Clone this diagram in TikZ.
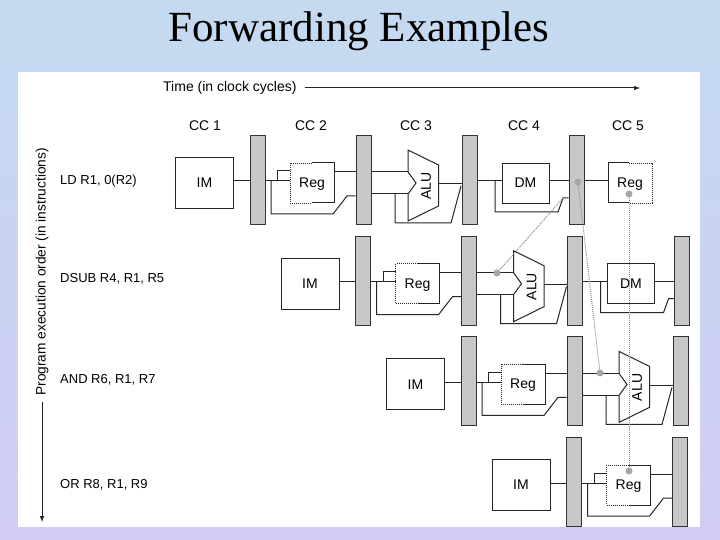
\documentclass[tikz,border=0pt]{standalone}
\usepackage{fontspec}
\setmainfont{Liberation Serif}
\newfontfamily\sansf{Liberation Sans}
\begin{document}
\begin{tikzpicture}[x=1pt,y=-1pt,
  bar/.style={draw=black!80,fill=black!22,line width=1pt,minimum width=15pt,minimum height=89pt,inner sep=0pt},
  box/.style={draw=black!85,line width=0.9pt,inner sep=0pt,font=\sansf\fontsize{14}{14}\selectfont},
  wire/.style={draw=black!85,line width=1pt},
  fwd/.style={draw=black!45,densely dotted,line width=1pt},
  dot/.style={circle,fill=black!35,inner sep=0pt,minimum size=7pt},
  lbl/.style={font=\sansf\fontsize{14}{14}\selectfont,inner sep=0pt},
  ins/.style={font=\sansf\fontsize{13}{13}\selectfont,inner sep=0pt,anchor=west}]
\useasboundingbox (0,0) rectangle (720,540);
\shade[top color={rgb,255:red,196;green,218;blue,240},bottom color={rgb,255:red,208;green,204;blue,244}] (0,0) rectangle (720,540);
\node[font=\fontsize{43}{43}\selectfont] (title) at (359,31) {Forwarding Examples};
\fill[white] (18,72) rectangle (700,527);
% stage macros
\newcommand\stIF[1]{%
  \node[box,minimum width=58pt,minimum height=51pt] (im#1) at (204.5,183) {IM};
  \node[bar] (bA#1) at (257.5,180) {};
  \draw[wire] (im#1.east|-0,181) -- (bA#1.west|-0,181);}
\newcommand\stID[1]{%
  \node[box,draw=none,minimum width=44pt,minimum height=40pt] (reg#1) at (312,184) {Reg};
  \draw[wire,densely dotted,line width=0.6pt] (312,163) -- (290,163) -- (290,203) -- (312,203);
  \draw[wire] (312,163) -- (334,163) -- (334,203) -- (312,203);
  \node[bar] (bB#1) at (363.5,180) {};
  \draw[wire] (bA#1.east|-0,181) -- (290,181);
  \draw[wire] (277.5,181) |- (290,171);
  \draw[wire] (271,181) -- (271,214) -- (333,214) -- (347,196) -- (bB#1.west|-0,196);
  \draw[wire] (334,172) -- (bB#1.west|-0,172);}
\newcommand\stEX[1]{%
  \draw[wire,fill=white] (408,150) -- (438.5,165) -- (438.5,206) -- (408,221) -- (408,194) -- (416,183) -- (408,172) -- cycle;
  \node[lbl,rotate=90] (alu#1) at (426,186) {ALU};
  \node[bar] (bC#1) at (469.5,180) {};
  \draw[wire] (bB#1.east|-0,172) -- (408,172);
  \draw[wire] (bB#1.east|-0,194) -- (408,194);
  \draw[wire] (395,194) -- (395,223) -- (451,223) -- (454.5,210) -- (461,186);
  \draw[wire] (438.5,184) -- (bC#1.west|-0,184);}
\newcommand\stMEM[1]{%
  \node[box,minimum width=47pt,minimum height=40pt] (dm#1) at (525.5,183) {DM};
  \node[bar] (bD#1) at (576.5,180) {};
  \draw[wire] (bC#1.east|-0,181) -- (dm#1.west|-0,181);
  \draw[wire] (495,181) -- (495,212) -- (558,212) -- (563,198) -- (bD#1.west|-0,198);
  \draw[wire] (dm#1.east|-0,181) -- (bD#1.west|-0,181);}
\newcommand\stWB[1]{%
  \node[box,draw=none,minimum width=44pt,minimum height=40pt] (wb#1) at (630,184) {Reg};
  \draw[wire] (629,163) -- (608,163) -- (608,203) -- (629,203);
  \draw[wire,densely dotted,line width=0.6pt] (629,163) -- (652,163) -- (652,203) -- (629,203);
  \draw[wire] (bD#1.east|-0,181) -- (wb#1.west|-0,181);}
% rows
\begin{scope}\stIF{0}\stID{0}\stEX{0}\stMEM{0}\stWB{0}\end{scope}
\begin{scope}[shift={(105.5,100.7)}]\stIF{1}\stID{1}\stEX{1}\stMEM{1}\end{scope}
\begin{scope}[shift={(211,201.4)}]\stIF{2}\stID{2}\stEX{2}\end{scope}
\begin{scope}[shift={(316.5,302.1)}]\stIF{3}\stID{3}\end{scope}
% forwarding
\node[dot] (f1) at (578,182) {};
\node[dot] (f2) at (497,273) {};
\node[dot] (f3) at (600,373) {};
\node[dot] (f4) at (629,194) {};
\node[dot] (f5) at (629,471) {};
\coordinate (f0) at (563,198);
\draw[fwd] (f0) -- (f2);
\draw[fwd] (f1) -- (f3);
\draw[fwd] (f4) -- (f5);
% labels
\node[lbl,anchor=west] (time) at (163,88) {Time (in clock cycles)};
\coordinate (tend) at (640,88);
\draw[wire,-latex] (time.east)++(8,0) -- (tend);
\node[lbl] (cc1) at (205,126) {CC 1};
\node[lbl] (cc2) at (311,126) {CC 2};
\node[lbl] (cc3) at (416,126) {CC 3};
\node[lbl] (cc4) at (524,126) {CC 4};
\node[lbl] (cc5) at (628,126) {CC 5};
\node[ins] (i1) at (60,181) {LD R1, 0(R2)};
\node[ins] (i2) at (60,279) {DSUB R4, R1, R5};
\node[ins] (i3) at (60,380) {AND R6, R1, R7};
\node[ins] (i4) at (60,485) {OR R8, R1, R9};
\node[lbl,rotate=90,anchor=east,font=\sansf\fontsize{13.7}{14}\selectfont] (peo) at (42,148) {Program execution order (in instructions)};
\coordinate (pend) at (42,522);
\draw[wire,-latex] (peo.west)++(0,6) -- (pend);
\end{tikzpicture}
\end{document}
